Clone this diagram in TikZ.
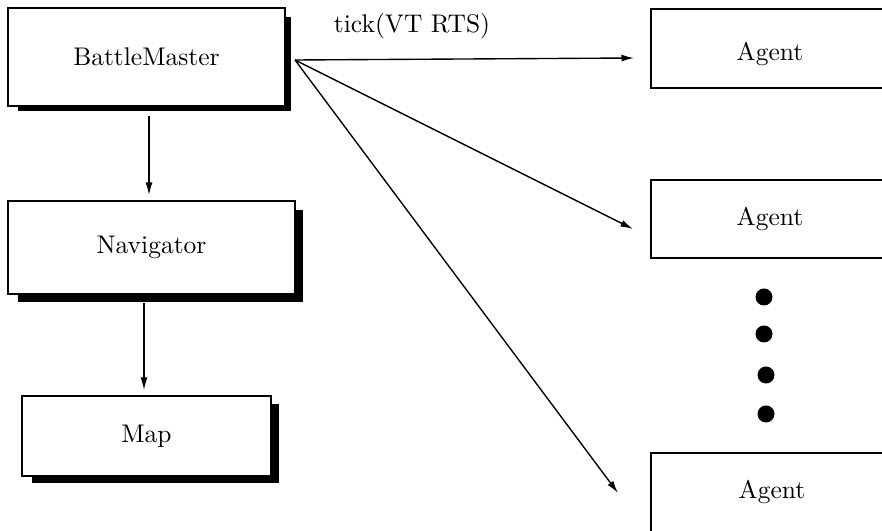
\documentclass[tikz,border=0pt]{standalone}
\usetikzlibrary{arrows.meta}
\begin{document}
\begin{tikzpicture}[x=0.4pt,y=-0.4pt,
  font=\fontsize{10.2}{12}\selectfont,
  box/.style={draw,line width=0.8pt,fill=white,inner sep=0pt},
  shade/.style={fill=black},
  arr/.style={-{Latex[length=5pt,width=2.8pt]},line width=0.55pt},
  dot/.style={circle,fill=black,inner sep=0pt,minimum size=6.8pt}]
\clip (0,0) rectangle (882,531);
\fill[white] (0,0) rectangle (882,531);

% drop shadows of the left-hand boxes
\fill[shade] (18,17) rectangle (291,111);
\fill[shade] (18,210) rectangle (303,302);
\fill[shade] (32,404) rectangle (279,483);

% left column
\node[box,minimum width=110.8pt,minimum height=39.2pt] (bm) at (146.5,57) {BattleMaster};
\node[box,minimum width=114.8pt,minimum height=37.2pt] (nav) at (151.5,247.5) {Navigator};
\node[box,minimum width=99.6pt,minimum height=32pt] (map) at (146.5,436) {Map};

% agents on the right
\node[box,minimum width=120pt,minimum height=31.6pt] (a1) at (801,48.5) {};
\node[box,minimum width=120pt,minimum height=31.2pt] (a2) at (801,219) {};
\node[box,minimum width=120pt,minimum height=36pt] (a3) at (801,498) {};
\node (a1t) at (770,54) {Agent};
\node (a2t) at (770,219) {Agent};
\node (a3t) at (772,492) {Agent};

% ellipsis dots
\node[dot] (d1) at (764,297) {};
\node[dot] (d2) at (764,334) {};
\node[dot] (d3) at (766,375) {};
\node[dot] (d4) at (766,414) {};

% vertical connectors
\draw[arr,shorten <=3.6pt,shorten >=2pt] ([xshift=1pt]bm.south) -- ([xshift=1pt]bm.south |- nav.north);
\draw[arr,shorten <=3.2pt,shorten >=2pt] ([xshift=-3pt]nav.south) -- ([xshift=-3pt]nav.south |- map.north);

% tick messages to the agents
\coordinate (src) at (295,60);
\coordinate (t1) at (634,58);
\coordinate (t2) at (633,229);
\coordinate (t3) at (618,493);
\draw[arr] (src) -- (t1);
\draw[arr] (src) -- (t2);
\draw[arr] (src) -- (t3);
\node (tick) at (412,26) {tick(VT RTS)};
\end{tikzpicture}
\end{document}
